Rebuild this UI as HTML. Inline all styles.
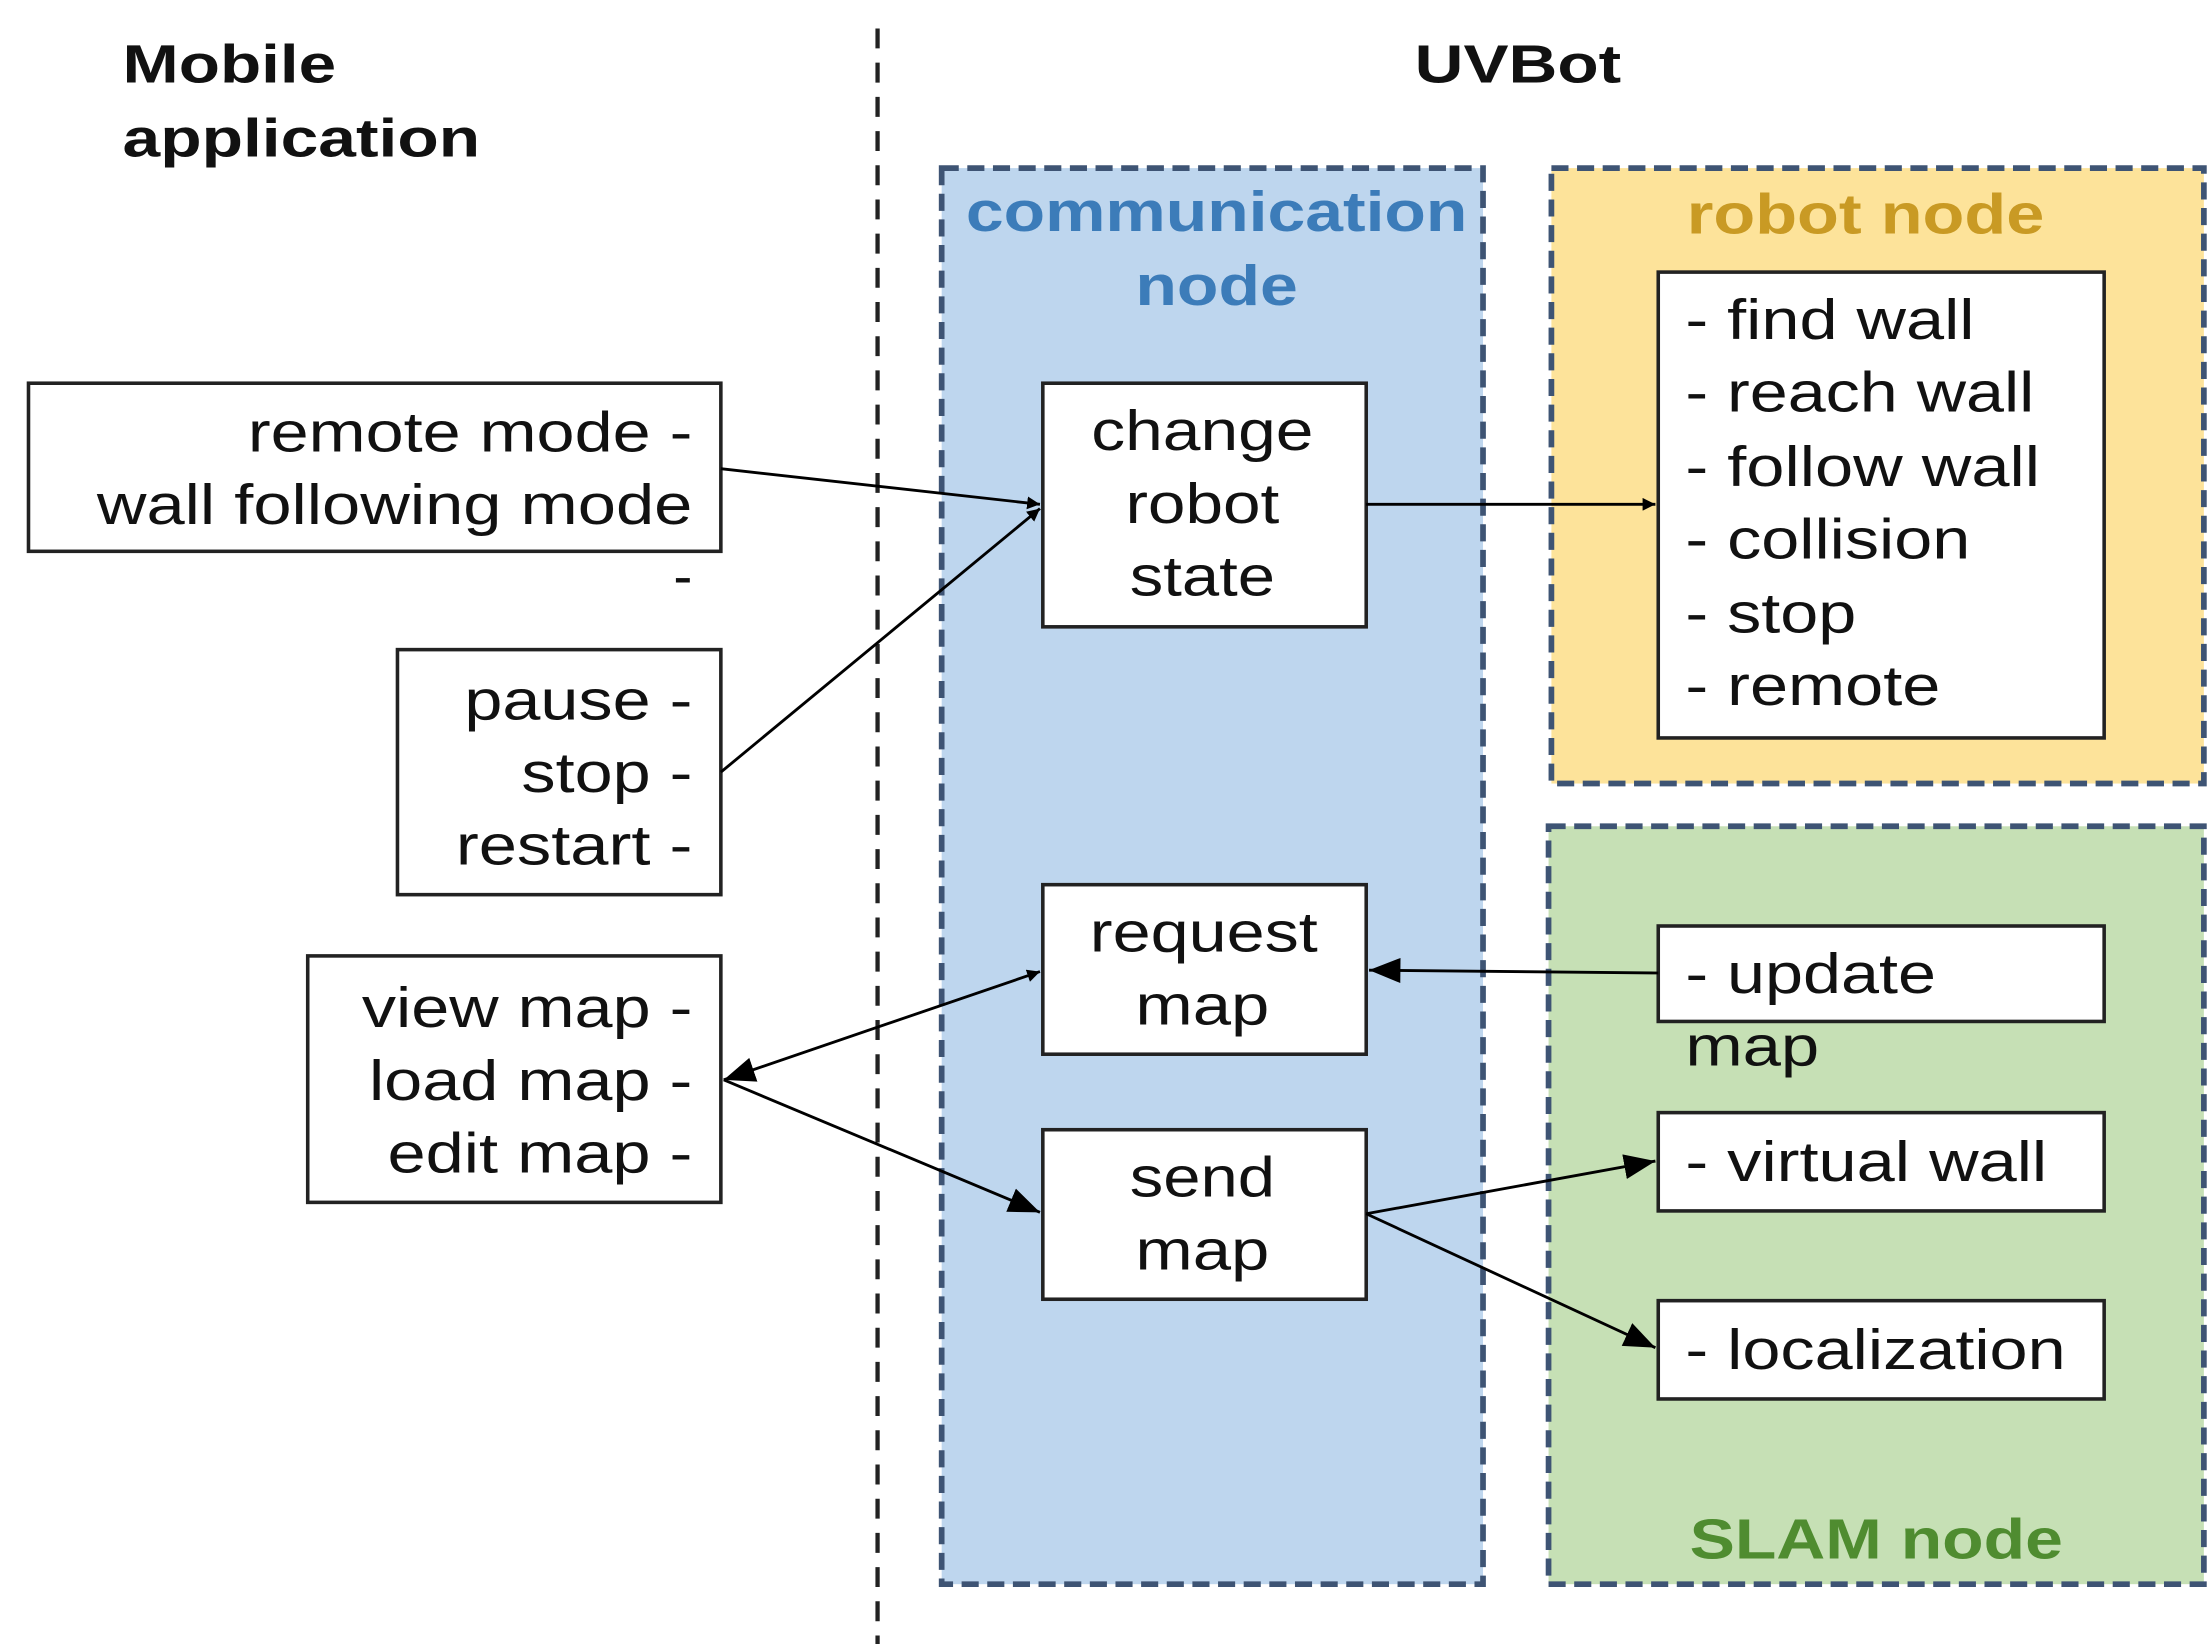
<!DOCTYPE html>
<html><head><meta charset="utf-8"><style>
html,body{margin:0;padding:0;background:#fff}
svg{display:block}
text{font-family:"Liberation Sans",sans-serif;}
.t{font-size:40px;fill:#111}
.b{font-weight:bold}
</style></head><body>
<svg width="2211" height="1644" viewBox="0 0 1552 1154" preserveAspectRatio="none" xmlns="http://www.w3.org/2000/svg">
<defs><marker id="a" viewBox="0 0 10 10" refX="10" refY="5" markerWidth="9" markerHeight="9" markerUnits="userSpaceOnUse" orient="auto-start-reverse"><path d="M0,0 L10,5 L0,10 z" fill="#000"/></marker>
<marker id="A" viewBox="0 0 10 10" refX="10" refY="5" markerWidth="22" markerHeight="22" markerUnits="userSpaceOnUse" orient="auto-start-reverse"><path d="M0,1 L10,5 L0,9 z" fill="#000"/></marker></defs>
<rect width="1552" height="1154" fill="#fff"/>
<g lengthAdjust="spacingAndGlyphs">
<text x="86" y="58" class="t b" style="font-size:38px" textLength="150" lengthAdjust="spacingAndGlyphs">Mobile</text>
<text x="86" y="110" class="t b" style="font-size:38px" textLength="251" lengthAdjust="spacingAndGlyphs">application</text>
<text x="993" y="58" class="t b" style="font-size:38px" textLength="145" lengthAdjust="spacingAndGlyphs">UVBot</text>
</g>
<line x1="616" y1="20" x2="616" y2="1154" stroke="#222" stroke-width="3" stroke-dasharray="14,10"/>
<rect x="661" y="118" width="380" height="994" fill="#bed6ee" stroke="#3e5474" stroke-width="4" stroke-dasharray="12,6"/>
<rect x="1089" y="118" width="458" height="432" fill="#fde39a" stroke="#3e5474" stroke-width="4" stroke-dasharray="12,6"/>
<rect x="1087" y="580" width="460" height="532" fill="#c6e0b5" stroke="#3e5474" stroke-width="4" stroke-dasharray="12,6"/>
<text x="678" y="162" class="b" style="font-size:40px;fill:#3c7cb9" textLength="352" lengthAdjust="spacingAndGlyphs">communication</text>
<text x="797" y="214" class="b" style="font-size:40px;fill:#3c7cb9" textLength="114" lengthAdjust="spacingAndGlyphs">node</text>
<text x="1184" y="164" class="b" style="font-size:40px;fill:#c99a24" textLength="251" lengthAdjust="spacingAndGlyphs">robot node</text>
<text x="1186" y="1094" class="b" style="font-size:40px;fill:#4f8c30" textLength="262" lengthAdjust="spacingAndGlyphs">SLAM node</text>
<g fill="#fff" stroke="#222" stroke-width="2.5">
<rect x="20" y="269" width="486" height="118"/>
<rect x="279" y="456" width="227" height="172"/>
<rect x="216" y="671" width="290" height="173"/>
<rect x="732" y="269" width="227" height="171"/>
<rect x="732" y="621" width="227" height="119"/>
<rect x="732" y="793" width="227" height="119"/>
<rect x="1164" y="191" width="313" height="327"/>
<rect x="1164" y="650" width="313" height="67"/>
<rect x="1164" y="781" width="313" height="69"/>
<rect x="1164" y="913" width="313" height="69"/>
</g>
<g class="t">
<text x="174" y="317" textLength="312" lengthAdjust="spacingAndGlyphs">remote mode -</text>
<text x="68" y="368" textLength="418" lengthAdjust="spacingAndGlyphs">wall following mode</text>
<text x="486" y="418" text-anchor="end">-</text>
<text x="326" y="505" textLength="160" lengthAdjust="spacingAndGlyphs">pause -</text>
<text x="366" y="556" textLength="120" lengthAdjust="spacingAndGlyphs">stop -</text>
<text x="320" y="607" textLength="166" lengthAdjust="spacingAndGlyphs">restart -</text>
<text x="254" y="721" textLength="232" lengthAdjust="spacingAndGlyphs">view map -</text>
<text x="259" y="772" textLength="227" lengthAdjust="spacingAndGlyphs">load map -</text>
<text x="272" y="823" textLength="214" lengthAdjust="spacingAndGlyphs">edit map -</text>
<text x="766" y="316" textLength="156" lengthAdjust="spacingAndGlyphs">change</text>
<text x="790" y="367" textLength="108" lengthAdjust="spacingAndGlyphs">robot</text>
<text x="793" y="418" textLength="102" lengthAdjust="spacingAndGlyphs">state</text>
<text x="765" y="668" textLength="160" lengthAdjust="spacingAndGlyphs">request</text>
<text x="797" y="719" textLength="94" lengthAdjust="spacingAndGlyphs">map</text>
<text x="793" y="840" textLength="102" lengthAdjust="spacingAndGlyphs">send</text>
<text x="797" y="891" textLength="94" lengthAdjust="spacingAndGlyphs">map</text>
<text x="1183" y="238" textLength="203" lengthAdjust="spacingAndGlyphs">- find wall</text>
<text x="1183" y="289" textLength="245" lengthAdjust="spacingAndGlyphs">- reach wall</text>
<text x="1183" y="341" textLength="249" lengthAdjust="spacingAndGlyphs">- follow wall</text>
<text x="1183" y="392" textLength="200" lengthAdjust="spacingAndGlyphs">- collision</text>
<text x="1183" y="444" textLength="120" lengthAdjust="spacingAndGlyphs">- stop</text>
<text x="1183" y="495" textLength="179" lengthAdjust="spacingAndGlyphs">- remote</text>
<text x="1183" y="697" textLength="176" lengthAdjust="spacingAndGlyphs">- update</text>
<text x="1183" y="748" textLength="94" lengthAdjust="spacingAndGlyphs">map</text>
<text x="1183" y="829" textLength="254" lengthAdjust="spacingAndGlyphs">- virtual wall</text>
<text x="1183" y="961" textLength="267" lengthAdjust="spacingAndGlyphs">- localization</text>
</g>
<g stroke="#000" stroke-width="2" fill="none">
<line x1="506" y1="329" x2="730" y2="354" marker-end="url(#a)"/>
<line x1="506" y1="542" x2="730" y2="357" marker-end="url(#a)"/>
<line x1="959" y1="354" x2="1162" y2="354" marker-end="url(#a)"/>
<line x1="1164" y1="683" x2="961" y2="681" marker-end="url(#A)"/>
<line x1="508" y1="758" x2="730" y2="682" marker-start="url(#A)" marker-end="url(#a)"/>
<line x1="508" y1="758" x2="730" y2="851" marker-end="url(#A)"/>
<line x1="959" y1="852" x2="1162" y2="815" marker-end="url(#A)"/>
<line x1="959" y1="852" x2="1162" y2="946" marker-end="url(#A)"/>
</g>
</svg>
</body></html>
